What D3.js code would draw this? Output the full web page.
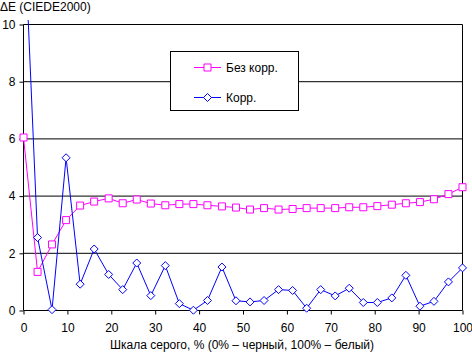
<!DOCTYPE html>
<html><head><meta charset="utf-8">
<script src="https://cdn.jsdelivr.net/npm/d3@7"></script>
<style>body{margin:0;background:#fff}svg{display:block}text{font-family:"Liberation Sans",Arial,sans-serif;font-size:12px;fill:#000}</style>
</head><body>
<script>
const grey = [0,3.2,6.5,9.7,12.9,16.1,19.4,22.6,25.8,29.0,32.3,35.5,38.7,41.9,45.2,48.4,51.6,54.8,58.1,61.3,64.5,67.7,71.0,74.2,77.4,80.6,83.9,87.1,90.3,93.5,96.8,100];
const bezKorr = [6.05,1.35,2.31,3.16,3.67,3.81,3.92,3.75,3.88,3.74,3.68,3.72,3.72,3.68,3.64,3.60,3.53,3.58,3.53,3.55,3.58,3.58,3.58,3.61,3.61,3.65,3.70,3.75,3.79,3.89,4.07,4.31];
const korr = [14.0,2.55,0.03,5.34,0.92,2.15,1.26,0.73,1.66,0.52,1.57,0.24,0.01,0.35,1.52,0.34,0.30,0.35,0.73,0.70,0.08,0.73,0.51,0.78,0.28,0.28,0.44,1.23,0.15,0.32,1.00,1.49];
const xTicks = [0,10,20,30,40,50,60,70,80,90,100];
const yTicks = [0,2,4,6,8,10];
const seriesNames = ["Без корр.","Корр."];
const xTitle = "Шкала серого, % (0% – черный, 100% – белый)";
const yTitle = "ΔE (CIEDE2000)";

const W=472,H=353;
const svg=d3.select("body").append("svg").attr("width",W).attr("height",H);
const x=d3.scaleLinear().domain([0,100]).range([23.5,462.5]);
const y=d3.scaleLinear().domain([0,10]).range([310.5,24.5]);

svg.append("defs").append("clipPath").attr("id","clip").append("rect")
 .attr("x",0).attr("y",20).attr("width",W).attr("height",H-20);

// gridlines
svg.append("g").selectAll("line").data(yTicks.filter(d=>d>0)).join("line")
 .attr("x1",x(0)).attr("x2",x(100)).attr("y1",d=>y(d)).attr("y2",d=>y(d))
 .attr("stroke","#000").attr("stroke-width",1);
// right border
svg.append("line").attr("x1",x(100)).attr("x2",x(100)).attr("y1",y(10)).attr("y2",y(0)).attr("stroke","#000");

// axes
const ax=svg.append("g").attr("transform",`translate(0,${y(0)})`)
 .call(d3.axisBottom(x).tickValues(xTicks).tickSize(4).tickPadding(9).tickFormat(d3.format("d")));
const ay=svg.append("g").attr("transform",`translate(${x(0)},0)`)
 .call(d3.axisLeft(y).tickValues(yTicks).tickSize(4).tickPadding(4).tickFormat(d3.format("d")));
[ax,ay].forEach(g=>{g.select(".domain").attr("stroke","#000");g.selectAll(".tick line").attr("stroke","#000");
 g.selectAll("text").style("font-family",'"Liberation Sans",Arial,sans-serif').style("font-size","12px").attr("fill","#000");});
ay.select(".domain").attr("d",`M0,${y(10)}V${y(0)}`);
ax.select(".domain").attr("d",`M${x(0)},0H${x(100)}`);

svg.append("text").attr("x",242).attr("y",349).attr("text-anchor","middle").text(xTitle);
svg.append("text").attr("x",0).attr("y",11).text(yTitle);

const line=d3.line().x((d,i)=>x(grey[i])).y(d=>y(d));
const sq=d3.symbol().type(d3.symbolSquare).size(49);
const dm=(s)=>`M0,${-s}L${s},0L0,${s}L${-s},0Z`;

const plot=svg.append("g").attr("clip-path","url(#clip)");
plot.append("path").datum(bezKorr).attr("d",line).attr("fill","none").attr("stroke","#ff00ff").attr("stroke-width",1);
plot.append("path").datum(korr).attr("d",line).attr("fill","none").attr("stroke","#0000ff").attr("stroke-width",1);
plot.append("g").selectAll("path").data(bezKorr).join("path")
 .attr("transform",(d,i)=>`translate(${x(grey[i])},${y(d)})`).attr("d",sq)
 .attr("fill","#fff").attr("stroke","#ff00ff").attr("stroke-width",1);
plot.append("g").selectAll("path").data(korr).join("path")
 .attr("transform",(d,i)=>`translate(${x(grey[i])},${y(d)})`).attr("d",dm(4))
 .attr("fill","#fff").attr("stroke","#0000ff").attr("stroke-width",1);

// legend
const lg=svg.append("g");
lg.append("rect").attr("x",170.5).attr("y",51.5).attr("width",128).attr("height",59).attr("fill","#fff").attr("stroke","#000");
const colors=["#ff00ff","#0000ff"];
seriesNames.forEach((n,i)=>{
 const yy=67+i*30;
 lg.append("line").attr("x1",194).attr("x2",221).attr("y1",yy+0.5).attr("y2",yy+0.5).attr("stroke",colors[i]);
 lg.append("path").attr("transform",`translate(207.5,${yy+0.5})`).attr("d",i==0?sq:dm(4)).attr("fill","#fff").attr("stroke",colors[i]);
 lg.append("text").attr("x",226).attr("y",yy+4.5).text(n);
});
</script>
</body></html>
